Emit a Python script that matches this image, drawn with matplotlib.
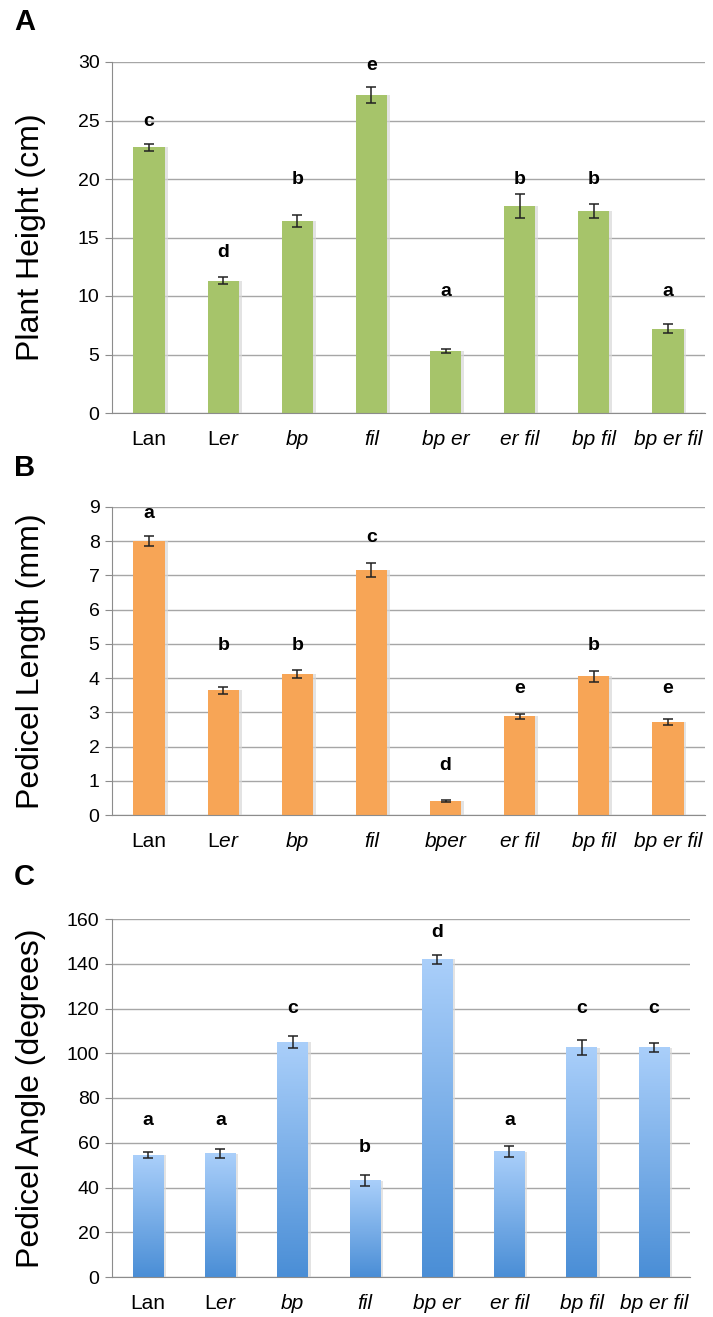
import matplotlib
matplotlib.use('Agg')
import matplotlib.pyplot as plt
import numpy as np
from matplotlib.colors import LinearSegmentedColormap

plt.rcParams['font.family'] = ['Liberation Sans', 'DejaVu Sans']
plt.rcParams['mathtext.fontset'] = 'custom'
plt.rcParams['mathtext.rm'] = 'Liberation Sans'
plt.rcParams['mathtext.it'] = 'Liberation Sans:italic'

# data
labels_a = ['Lan', 'L$\\mathit{er}$', 'bp', 'fil', 'bp er', 'er fil', 'bp fil', 'bp er fil']
labels_b = ['Lan', 'L$\\mathit{er}$', 'bp', 'fil', 'bper', 'er fil', 'bp fil', 'bp er fil']
labels_c = labels_a
italic = [False, False, True, True, True, True, True, True]

height = [22.7, 11.3, 16.4, 27.2, 5.3, 17.7, 17.3, 7.2]
height_err = [0.3, 0.3, 0.5, 0.7, 0.2, 1.0, 0.6, 0.4]
height_sig = ['c', 'd', 'b', 'e', 'a', 'b', 'b', 'a']
height_sig_y = [24.9, 13.7, 20.0, 29.7, 10.4, 20.0, 20.0, 10.4]

pedlen = [8.0, 3.65, 4.12, 7.15, 0.40, 2.88, 4.05, 2.72]
pedlen_err = [0.15, 0.1, 0.12, 0.2, 0.03, 0.08, 0.15, 0.08]
pedlen_sig = ['a', 'b', 'b', 'c', 'd', 'e', 'b', 'e']
pedlen_sig_y = [8.8, 4.95, 4.95, 8.1, 1.45, 3.7, 4.95, 3.7]

angle = [54.5, 55.0, 105.0, 43.0, 142.0, 56.0, 102.5, 102.5]
angle_err = [1.5, 2.0, 2.5, 2.5, 2.0, 2.5, 3.5, 2.0]
angle_sig = ['a', 'a', 'c', 'b', 'd', 'a', 'c', 'c']
angle_sig_y = [70, 70, 120, 58, 154, 70, 120, 120]

W, H = 713, 1317
fig = plt.figure(figsize=(W / 100, H / 100), dpi=100)


def px_axes(left, top, right, bottom):
    return fig.add_axes([left / W, 1 - bottom / H, (right - left) / W, (bottom - top) / H])


def style(ax, ymax, step, labels, ylabel, left, right):
    ax.set_xlim(0, 8)
    ax.set_ylim(0, ymax)
    ax.set_yticks(np.arange(0, ymax + step / 2, step))
    ax.set_xticks(np.arange(8) + 0.5)
    ax.set_xticklabels(labels, fontsize=15)
    for t, it in zip(ax.get_xticklabels(), italic):
        if it:
            t.set_fontstyle('italic')
    ax.tick_params(axis='x', length=0, pad=12)
    ax.tick_params(axis='y', length=5, color='#8c8c8c', labelsize=14, pad=4)
    ax.yaxis.grid(True, color='#a6a6a6', linewidth=1.0)
    ax.set_axisbelow(True)
    for s in ['top', 'right']:
        ax.spines[s].set_visible(False)
    for s in ['left', 'bottom']:
        ax.spines[s].set_color('#8c8c8c')
    ax.set_ylabel(ylabel, fontsize=23)
    ax.yaxis.set_label_coords((46 - left) / (right - left), 0.5)


def draw_bars(ax, vals, errs, color):
    x = np.arange(8) + 0.5
    ax.bar(x + 0.04, vals, width=0.42, color='#d8d8d8', alpha=0.7, zorder=1)
    ax.bar(x, vals, width=0.42, color=color, zorder=2)
    ax.errorbar(x, vals, yerr=errs, fmt='none', ecolor='#222222', elinewidth=1.1,
                capsize=3.5, capthick=1.1, zorder=3)


def letters(ax, sig, ys):
    for i, (s, y) in enumerate(zip(sig, ys)):
        ax.text(i + 0.5, y, s, ha='center', va='center', fontsize=14, fontweight='bold')


# panel A
axA = px_axes(112, 62, 705, 413)
style(axA, 30, 5, labels_a, 'Plant Height (cm)', 112, 705)
draw_bars(axA, height, height_err, '#a6c46a')
letters(axA, height_sig, height_sig_y)

# panel B
axB = px_axes(112, 507, 705, 815)
style(axB, 9, 1, labels_b, 'Pedicel Length (mm)', 112, 705)
draw_bars(axB, pedlen, pedlen_err, '#f7a556')
letters(axB, pedlen_sig, pedlen_sig_y)

# panel C with gradient bars
axC = px_axes(112, 919, 690, 1277)
style(axC, 160, 20, labels_c, 'Pedicel Angle (degrees)', 112, 690)
xc = np.arange(8) + 0.5
axC.bar(xc + 0.04, angle, width=0.42, color='#d8d8d8', alpha=0.7, zorder=1)
cmap = LinearSegmentedColormap.from_list('blu', ['#4a8ed6', '#aacffa'])
grad = np.linspace(0, 1, 256).reshape(-1, 1)
for xi, v in zip(xc, angle):
    axC.imshow(grad, extent=[xi - 0.21, xi + 0.21, 0, v], origin='lower',
               aspect='auto', cmap=cmap, zorder=2)
axC.errorbar(xc, angle, yerr=angle_err, fmt='none', ecolor='#222222', elinewidth=1.1,
             capsize=3.5, capthick=1.1, zorder=3)
axC.set_xlim(0, 8)
axC.set_ylim(0, 160)
letters(axC, angle_sig, angle_sig_y)

for lab, y in [('A', 22), ('B', 468), ('C', 877)]:
    fig.text(14 / W, 1 - y / H, lab, fontsize=21, fontweight='bold',
             ha='left', va='center')

fig.savefig('out.png', dpi=100)
